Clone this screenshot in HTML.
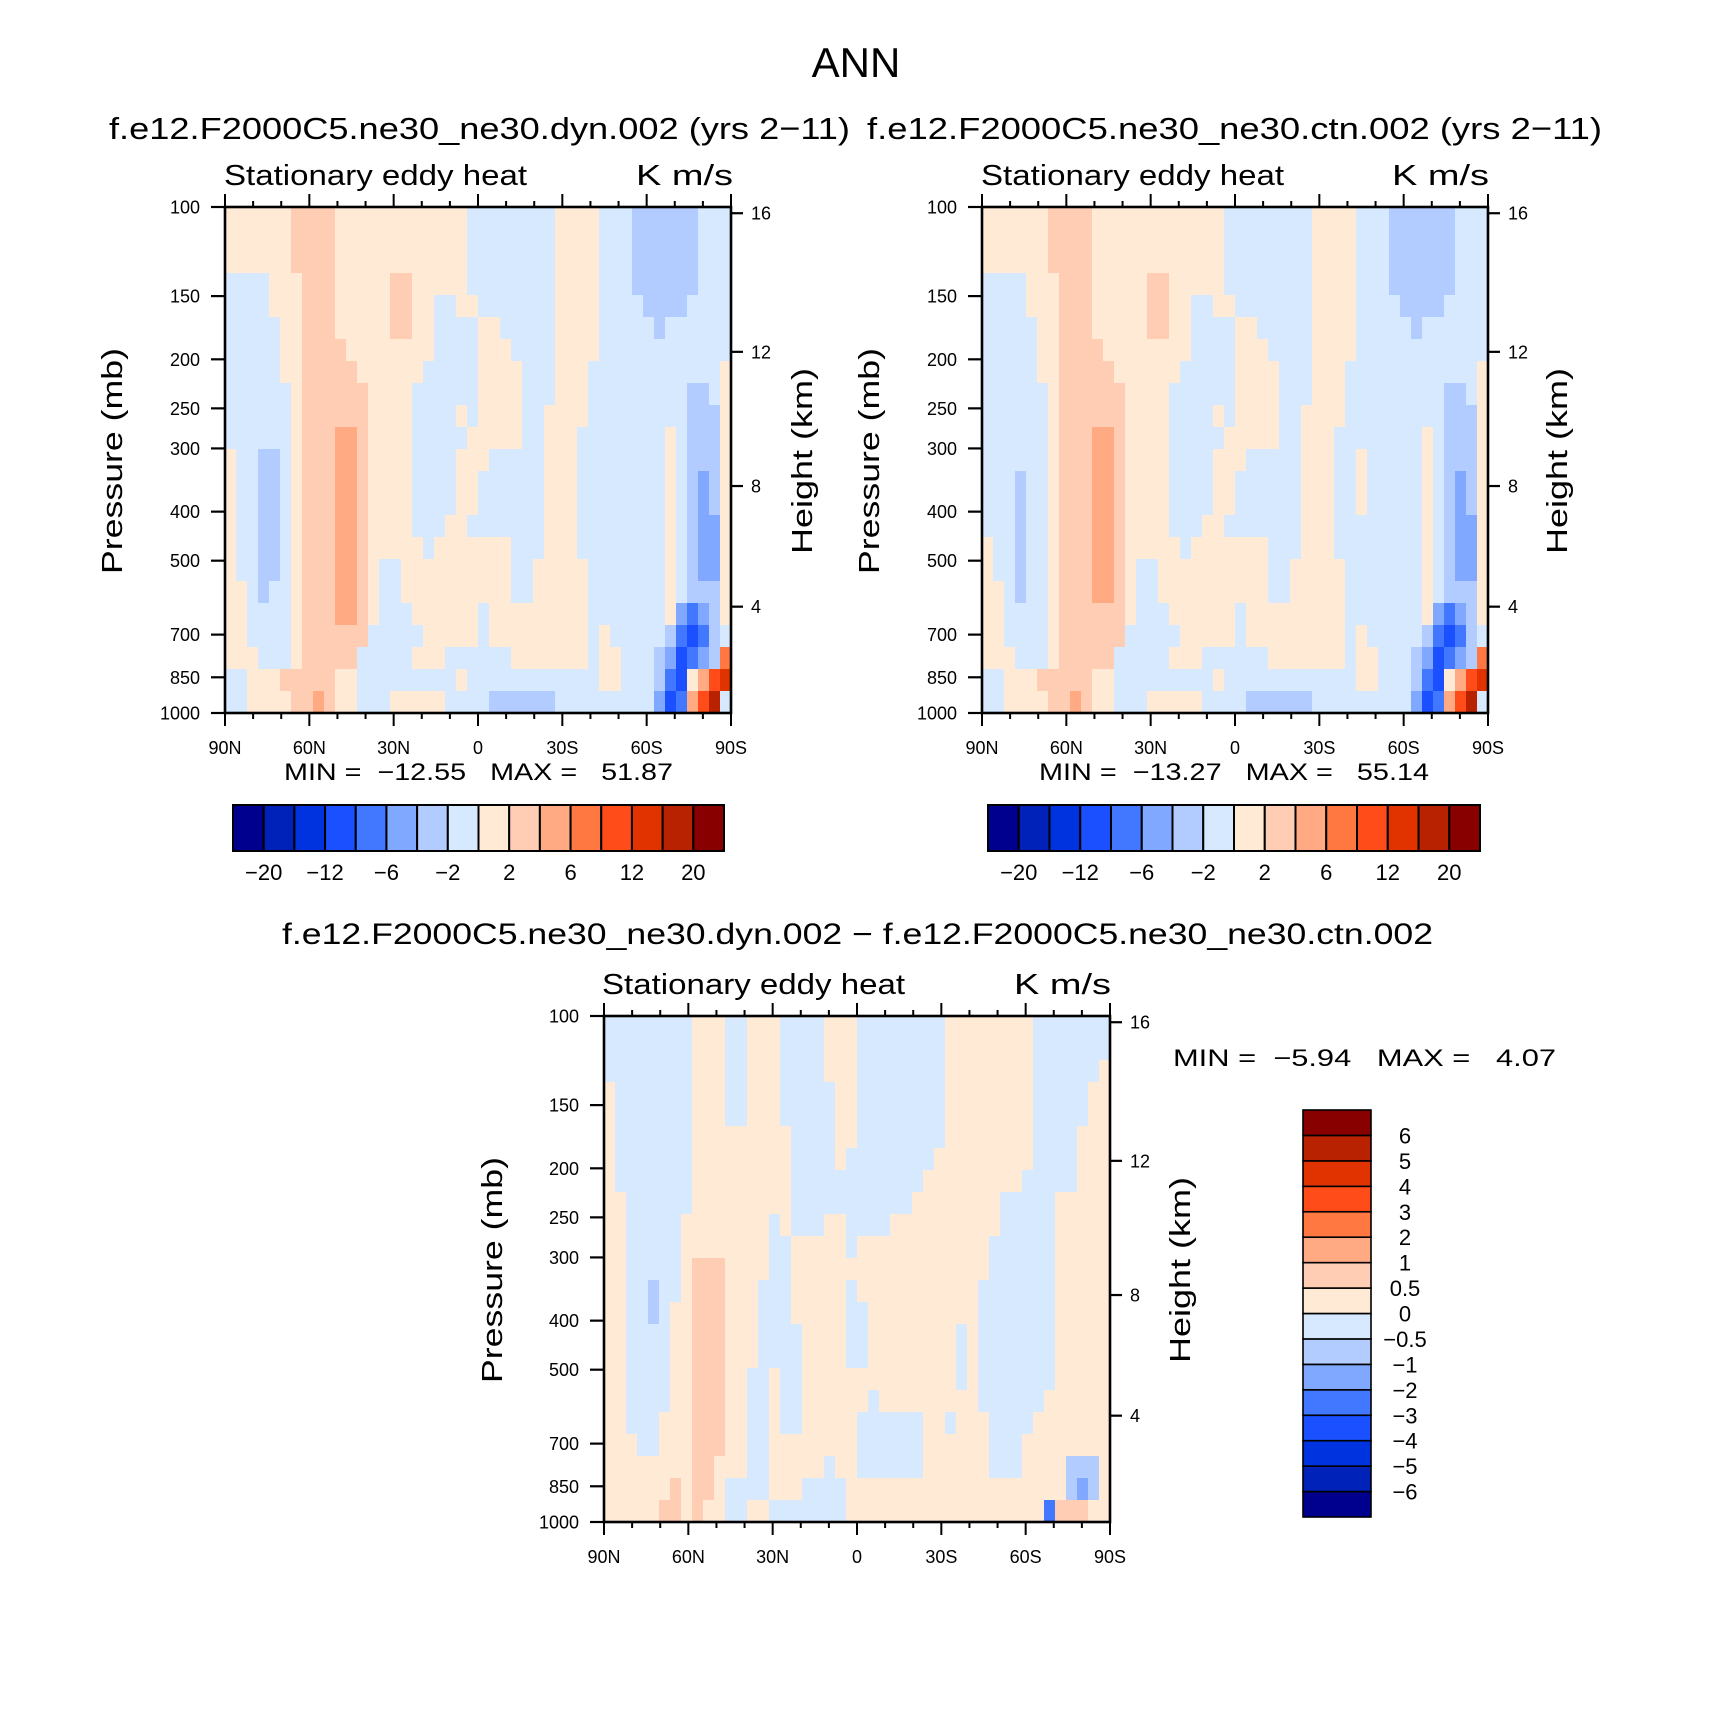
<!DOCTYPE html>
<html><head><meta charset="utf-8"><style>
html,body{margin:0;padding:0;background:#fff;}
svg{display:block;font-family:"Liberation Sans",sans-serif;}
.pre{white-space:pre;}
</style></head><body>
<svg id="fig" xmlns="http://www.w3.org/2000/svg" width="1710" height="1728">
<rect x="0" y="0" width="1710" height="1728" fill="#fff"/>
<text x="856" y="77" font-size="42" text-anchor="middle">ANN</text>
<text x="109" y="139" font-size="31" textLength="741" lengthAdjust="spacingAndGlyphs">f.e12.F2000C5.ne30_ne30.dyn.002 (yrs 2−11)</text>
<text x="867" y="139" font-size="31" textLength="735" lengthAdjust="spacingAndGlyphs">f.e12.F2000C5.ne30_ne30.ctn.002 (yrs 2−11)</text>
<text x="282" y="944" font-size="30" textLength="1151" lengthAdjust="spacingAndGlyphs">f.e12.F2000C5.ne30_ne30.dyn.002 − f.e12.F2000C5.ne30_ne30.ctn.002</text>
<g id="plots"></g>
</svg>
<script>
// ---- data ----
const colors = ["#00008f","#0022b8","#0033e0","#1a50ff","#4278ff","#80a8ff","#b2ccff","#d6e9ff","#ffead6","#ffccb4","#ffaa82","#ff7842","#ff4c19","#e03300","#b82200","#880000"];
const levelsAbs = [-20,-16,-12,-8,-6,-4,-2,0,2,4,6,8,12,16,20];
const levelsDiff = [-6,-5,-4,-3,-2,-1,-0.5,0,0.5,1,2,3,4,5,6];
const cbLabelsAbs = ["−20","−12","−6","−2","2","6","12","20"];
const cbLabelIdxAbs = [1,3,5,7,9,11,13,15];
const cbLabelsDiff = ["6","5","4","3","2","1","0.5","0","−0.5","−1","−2","−3","−4","−5","−6"];
const pressureTicks = [100,150,200,250,300,400,500,700,850,1000];
const heightTicks = [4,8,12,16];
const latTicks = [90,60,30,0,-30,-60,-90];
const latLabels = ["90N","60N","30N","0","30S","60S","90S"];
const minMax1 = ["−12.55","51.87"];
const minMax2 = ["−13.27","55.14"];
const minMax3 = ["−5.94","4.07"];
// grid rows (run-length encoded: code*count), 46 lat columns x 23 log-p rows; code = colour bin index
const field1 = [
"8*6 9*4 8*12 7*8 8*4 7*3 6*6 7*3",
"8*6 9*4 8*12 7*8 8*4 7*3 6*6 7*3",
"8*6 9*4 8*12 7*8 8*4 7*3 6*6 7*3",
"7*4 8*3 9*3 8*5 9*2 8*5 7*8 8*4 7*3 6*6 7*3",
"7*4 8*3 9*3 8*5 9*2 8*2 7*2 8*2 7*7 8*4 7*4 6*4 7*4",
"7*5 8*2 9*3 8*5 9*2 8*2 7*4 8*2 7*5 8*4 7*5 6*1 7*6",
"7*5 8*2 9*4 8*8 7*4 8*3 7*4 8*4 7*12",
"7*5 8*2 9*5 8*6 7*5 8*4 7*3 8*3 7*12 8*1",
"7*6 8*1 9*6 8*4 7*6 8*4 7*3 8*3 7*9 6*2 7*1 8*1",
"7*6 8*1 9*6 8*4 7*4 8*1 7*1 8*4 7*2 8*4 7*9 6*3 8*1",
"7*6 8*1 9*3 a*2 9*1 8*4 7*5 8*5 7*2 8*3 7*8 8*1 7*1 6*3 8*1",
"8*1 7*2 6*2 7*1 8*1 9*3 a*2 9*1 8*4 7*4 8*3 7*5 8*3 7*8 8*1 7*1 6*3 8*1",
"8*1 7*2 6*2 7*1 8*1 9*3 a*2 9*1 8*4 7*4 8*2 7*6 8*3 7*8 8*1 7*1 6*1 5*1 6*1 8*1",
"8*1 7*2 6*2 7*1 8*1 9*3 a*2 9*1 8*4 7*4 8*2 7*6 8*3 7*8 8*1 7*1 6*1 5*1 6*1 8*1",
"8*1 7*2 6*2 7*1 8*1 9*3 a*2 9*1 8*4 7*3 8*2 7*7 8*3 7*8 8*1 7*1 6*1 5*2 8*1",
"8*1 7*2 6*2 7*1 8*1 9*3 a*2 9*1 8*5 7*1 8*7 7*3 8*3 7*8 8*1 7*1 6*1 5*2 8*1",
"8*1 7*2 6*2 7*1 8*1 9*3 a*2 9*1 8*1 7*2 8*10 7*2 8*5 7*7 8*1 7*1 6*1 5*2 8*1",
"8*2 7*1 6*1 7*2 8*1 9*3 a*2 9*1 8*1 7*2 8*10 7*2 8*5 7*7 8*1 7*1 6*3 8*1",
"8*2 7*4 8*1 9*3 a*2 9*1 8*1 7*3 8*6 7*1 8*9 7*7 8*1 5*1 4*1 5*1 6*1 8*1",
"8*2 7*4 8*1 9*6 7*5 8*5 7*1 8*9 7*1 8*1 7*5 6*1 4*1 3*1 4*1 6*1 7*1",
"8*3 7*3 8*1 9*5 7*5 8*3 7*6 8*7 7*1 8*2 7*3 6*1 5*1 3*1 4*1 5*1 6*1 b*1",
"7*2 8*3 9*5 8*2 7*9 8*1 7*12 8*2 7*3 6*1 4*1 3*1 8*1 a*1 c*1 d*1",
"7*2 8*4 9*2 a*1 9*1 8*2 7*3 8*5 7*4 6*6 7*9 5*1 3*1 4*1 a*1 c*1 e*1 7*1"
];
const field2 = [
"8*6 9*4 8*12 7*8 8*4 7*3 6*6 7*3",
"8*6 9*4 8*12 7*8 8*4 7*3 6*6 7*3",
"8*6 9*4 8*12 7*8 8*4 7*3 6*6 7*3",
"7*4 8*3 9*3 8*5 9*2 8*5 7*8 8*4 7*3 6*6 7*3",
"7*4 8*3 9*3 8*5 9*2 8*2 7*2 8*2 7*7 8*4 7*4 6*4 7*4",
"7*5 8*2 9*3 8*5 9*2 8*2 7*4 8*2 7*5 8*4 7*5 6*1 7*6",
"7*5 8*2 9*4 8*8 7*4 8*3 7*4 8*4 7*12",
"7*5 8*2 9*5 8*6 7*5 8*4 7*3 8*3 7*12 8*1",
"7*6 8*1 9*6 8*4 7*6 8*4 7*3 8*3 7*9 6*2 7*1 8*1",
"7*6 8*1 9*6 8*4 7*4 8*1 7*1 8*4 7*2 8*4 7*9 6*3 8*1",
"7*6 8*1 9*3 a*2 9*1 8*4 7*5 8*5 7*2 8*3 7*8 8*1 7*1 6*3 8*1",
"7*6 8*1 9*3 a*2 9*1 8*4 7*4 8*3 7*5 8*3 7*2 8*1 7*5 8*1 7*1 6*3 8*1",
"7*3 6*1 7*2 8*1 9*3 a*2 9*1 8*4 7*4 8*2 7*6 8*3 7*2 8*1 7*5 8*1 7*1 6*1 5*1 6*1 8*1",
"7*3 6*1 7*2 8*1 9*3 a*2 9*1 8*4 7*4 8*2 7*6 8*3 7*2 8*1 7*5 8*1 7*1 6*1 5*1 6*1 8*1",
"7*3 6*1 7*2 8*1 9*3 a*2 9*1 8*4 7*3 8*2 7*7 8*3 7*8 8*1 7*1 6*1 5*2 8*1",
"8*1 7*2 6*1 7*2 8*1 9*3 a*2 9*1 8*5 7*1 8*7 7*3 8*3 7*8 8*1 7*1 6*1 5*2 8*1",
"8*1 7*2 6*1 7*2 8*1 9*3 a*2 9*1 8*1 7*2 8*10 7*2 8*5 7*7 8*1 7*1 6*1 5*2 8*1",
"8*2 7*1 6*1 7*2 8*1 9*3 a*2 9*1 8*1 7*2 8*10 7*2 8*5 7*7 8*1 7*1 6*3 8*1",
"8*2 7*4 8*1 9*6 8*1 7*3 8*6 7*1 8*9 7*7 8*1 5*1 4*1 5*1 6*1 8*1",
"8*2 7*4 8*1 9*6 7*5 8*5 7*1 8*9 7*1 8*1 7*5 6*1 4*1 3*1 4*1 6*1 7*1",
"8*3 7*3 8*1 9*5 7*5 8*3 7*6 8*7 7*1 8*2 7*3 6*1 5*1 3*1 4*1 5*1 6*1 b*1",
"7*2 8*3 9*5 8*2 7*9 8*1 7*12 8*2 7*3 6*1 4*1 3*1 8*1 a*1 c*1 d*1",
"7*2 8*4 9*2 a*1 9*1 8*2 7*3 8*5 7*4 6*6 7*9 5*1 3*1 4*1 a*1 c*1 e*1 7*1"
];
const field3 = [
"7*8 8*3 7*2 8*3 7*4 8*3 7*8 8*8 7*7",
"7*8 8*3 7*2 8*3 7*4 8*3 7*8 8*8 7*7",
"7*8 8*3 7*2 8*3 7*4 8*3 7*8 8*8 7*6 8*1",
"8*1 7*7 8*3 7*2 8*3 7*5 8*2 7*8 8*8 7*5 8*2",
"8*1 7*7 8*3 7*2 8*3 7*5 8*2 7*8 8*8 7*5 8*2",
"8*1 7*7 8*9 7*4 8*2 7*8 8*8 7*4 8*3",
"8*1 7*7 8*9 7*4 8*1 7*8 8*9 7*4 8*3",
"8*1 7*7 8*9 7*12 8*9 7*5 8*3",
"8*2 7*6 8*9 7*11 8*8 7*5 8*5",
"8*2 7*5 8*8 7*1 8*1 7*3 8*2 7*4 8*10 7*5 8*5",
"8*2 7*5 8*8 7*2 8*5 7*1 8*12 7*6 8*5",
"8*2 7*5 8*1 9*3 8*4 7*2 8*18 7*6 8*5",
"8*2 7*2 6*1 7*2 8*1 9*3 8*3 7*3 8*5 7*1 8*11 7*7 8*5",
"8*2 7*2 6*1 7*1 8*2 9*3 8*3 7*3 8*5 7*2 8*10 7*7 8*5",
"8*2 7*4 8*2 9*3 8*3 7*4 8*4 7*2 8*8 7*1 8*1 7*7 8*5",
"8*2 7*4 8*2 9*3 8*3 7*4 8*4 7*2 8*8 7*1 8*1 7*7 8*5",
"8*2 7*4 8*2 9*3 8*2 7*2 8*1 7*2 8*14 7*1 8*1 7*7 8*5",
"8*2 7*4 8*2 9*3 8*2 7*2 8*1 7*2 8*6 7*1 8*9 7*6 8*6",
"8*2 7*3 8*3 9*3 8*2 7*2 8*1 7*2 8*5 7*6 8*2 7*1 8*3 7*4 8*7",
"8*3 7*2 8*3 9*3 8*2 7*2 8*8 7*6 8*6 7*3 8*8",
"8*8 9*2 8*3 7*2 8*5 7*1 8*2 7*6 8*6 7*3 8*4 6*3 8*1",
"8*6 9*1 8*1 9*2 8*1 7*4 8*3 7*4 8*20 6*1 5*1 6*1 8*1",
"8*5 9*2 8*1 9*1 8*2 7*2 8*2 7*7 8*18 4*1 9*3 8*2"
];

// ---- helpers ----
const NS = "http://www.w3.org/2000/svg";
const root = document.getElementById("plots");
function mk(tag, attrs, parent){
  const e = document.createElementNS(NS, tag);
  for (const k in attrs) e.setAttribute(k, attrs[k]);
  (parent||root).appendChild(e);
  return e;
}
function decode(row){
  const out = [];
  row.trim().split(/\s+/).forEach(tok=>{
    const [c,n] = tok.split("*");
    for (let i=0;i<+n;i++) out.push(parseInt(c,16));
  });
  return out;
}
const PW = 506, PH = 506;
function yOfP(top, p){ return top + (Math.log10(p) - 2) * PH; }
function xOfLat(left, lat){ return left + (90 - lat) / 180 * PW; }
function pOfZ(zkm){
  const z = zkm*1000;
  if (z <= 11000) return 1013.25*Math.pow(1 - 2.25577e-5*z, 5.25588);
  return 226.32*Math.exp(-(z-11000)/6341.6);
}

function drawPanel(id, left, top, field, mm, titleX, unitX, presX, heightX, minX, minY, minLen){
  const g = mk("g", {});
  
  
  const rows = field.map(decode);
  const nr = rows.length;
  rows.forEach((row, r)=>{
    const nc = row.length;
    const cw = PW / nc, rh = PH / nr;
    row.forEach((ci, c)=>{
      const cell = mk("rect", {x:(left + c*cw).toFixed(2), y:(top + r*rh).toFixed(2), width:(cw+0.6).toFixed(2), height:(rh+0.6).toFixed(2), fill:colors[ci]}, g);
      
      
    });
  });
  const fr = mk("rect", {x:left, y:top, width:PW, height:PH, fill:"none", stroke:"#000", "stroke-width":2.6}, g);
  
  
  for (let lat = 90; lat >= -90; lat -= 10){
    const x = xOfLat(left, lat);
    const major = (lat % 30 === 0);
    const L = major ? 13 : 6;
    const t1 = mk("line", {x1:x, x2:x, y1:top, y2:top-L, stroke:"#000", "stroke-width":2}, g);
    
    
    const t2 = mk("line", {x1:x, x2:x, y1:top+PH, y2:top+PH+L, stroke:"#000", "stroke-width":2}, g);
    
    
  }
  latTicks.forEach((lat,i)=>{
    const t = mk("text", {x:xOfLat(left, lat), y:top+PH+41, "font-size":18, "text-anchor":"middle"}, g);
    t.textContent = latLabels[i];
    
    
  });
  pressureTicks.forEach(p=>{
    const y = yOfP(top, p);
    const l = mk("line", {x1:left, x2:left-14, y1:y, y2:y, stroke:"#000", "stroke-width":2.2}, g);
    
    
    const t = mk("text", {x:left-25, y:y+6.5, "font-size":18, "text-anchor":"end"}, g);
    t.textContent = String(p);
    
    
  });
  heightTicks.forEach(z=>{
    const y = yOfP(top, pOfZ(z));
    const l = mk("line", {x1:left+PW, x2:left+PW+12, y1:y, y2:y, stroke:"#000", "stroke-width":2.2}, g);
    
    
    const t = mk("text", {x:left+PW+20, y:y+6.5, "font-size":18}, g);
    t.textContent = String(z);
    
    
  });
  const st = mk("text", {x:titleX, y:top-22, "font-size":29, textLength:303, lengthAdjust:"spacingAndGlyphs"}, g);
  st.textContent = "Stationary eddy heat";
  
  
  const un = mk("text", {x:unitX, y:top-22, "font-size":29, textLength:97, lengthAdjust:"spacingAndGlyphs"}, g);
  un.textContent = "K m/s";
  
  
  const cy = top + 254;
  const pt = mk("text", {x:0, y:0, "font-size":29, "text-anchor":"middle", textLength:226, lengthAdjust:"spacingAndGlyphs", transform:`translate(${presX},${cy}) rotate(-90)`}, g);
  pt.textContent = "Pressure (mb)";
  
  
  const ht = mk("text", {x:0, y:0, "font-size":29, "text-anchor":"middle", textLength:186, lengthAdjust:"spacingAndGlyphs", transform:`translate(${heightX},${cy}) rotate(-90)`}, g);
  ht.textContent = "Height (km)";
  
  
  const m = mk("text", {x:minX, y:minY, "font-size":24, textLength:minLen, lengthAdjust:"spacingAndGlyphs", "class":"pre"}, g);
  m.textContent = "MIN =  " + mm[0] + "   MAX =   " + mm[1];
  
  
}

function drawHBar(id, x0, y0, w, h){
  const g = mk("g", {});
  
  
  const bw = w / colors.length;
  colors.forEach((c,i)=>{
    const r = mk("rect", {x:x0+i*bw, y:y0, width:bw, height:h, fill:c, stroke:"#000", "stroke-width":2}, g);
    
    
  });
  cbLabelsAbs.forEach((lab,i)=>{
    const t = mk("text", {x:x0+cbLabelIdxAbs[i]*bw, y:y0+h+29, "font-size":22, "text-anchor":"middle"}, g);
    t.textContent = lab;
    
    
  });
}
function drawVBar(id, x0, y0, w, h){
  const g = mk("g", {});
  
  
  const bh = h / colors.length;
  colors.forEach((c,i)=>{
    const r = mk("rect", {x:x0, y:y0+(colors.length-1-i)*bh, width:w, height:bh, fill:c, stroke:"#000", "stroke-width":1.6}, g);
    
    
  });
  cbLabelsDiff.forEach((lab,i)=>{
    const t = mk("text", {x:x0+w+34, y:y0+(i+1)*bh+8, "font-size":22, "text-anchor":"middle"}, g);
    t.textContent = lab;
    
    
  });
}

drawPanel("panel-dyn", 225, 207, field1, minMax1, 224, 636, 122, 812, 284, 780, 389);
drawPanel("panel-ctn", 982, 207, field2, minMax2, 981, 1392, 879, 1567, 1039, 780, 390);
drawPanel("panel-diff", 604, 1016, field3, minMax3, 602, 1014, 502, 1190, 1173, 1066, 383);
drawHBar("colorbar-dyn", 233, 805, 491, 46);
drawHBar("colorbar-ctn", 988, 805, 492, 46);
drawVBar("colorbar-diff", 1303, 1110, 68, 407);
</script>
</body></html>
